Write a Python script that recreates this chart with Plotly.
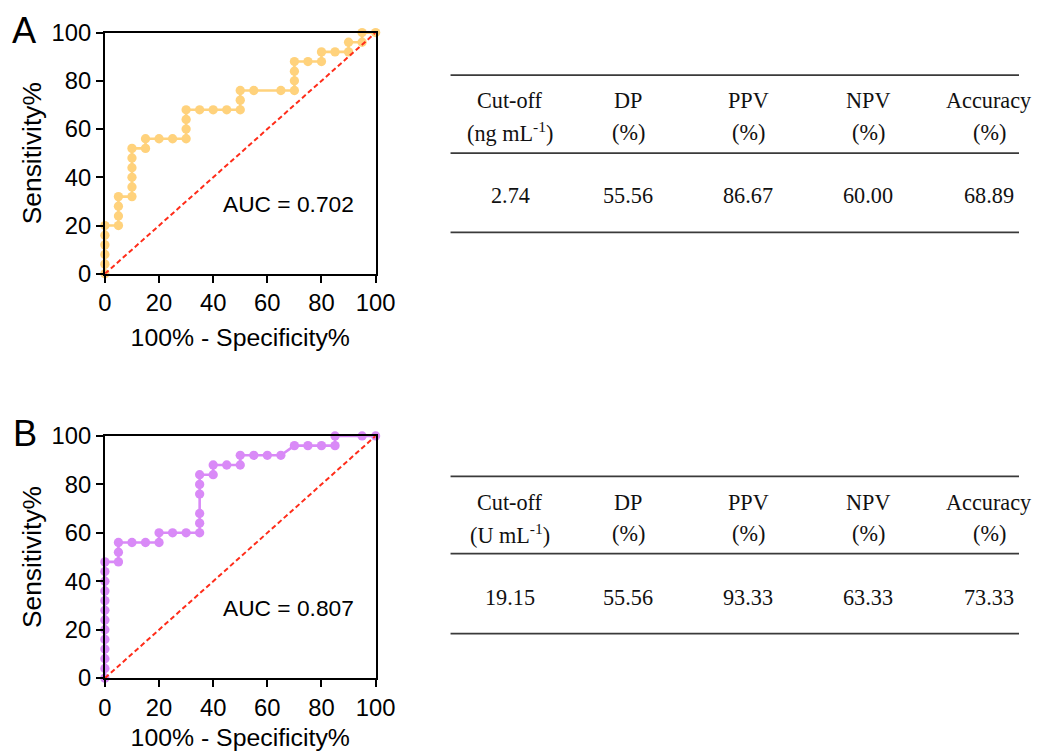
import plotly.graph_objects as go

# ---------------- data ----------------
a_fpr = [0, 0, 0, 0, 0, 0, 5, 5, 5, 5, 10, 10, 10, 10, 10, 10, 15, 15, 20, 25, 30,
         30, 30, 30, 35, 40, 45, 50, 50, 50, 55, 65, 70, 70, 70, 70, 75, 80, 80,
         85, 90, 90, 95, 95, 100]
a_sens = [0, 4, 8, 12, 16, 20, 20, 24, 28, 32, 32, 36, 40, 44, 48, 52, 52, 56, 56, 56, 56,
          60, 64, 68, 68, 68, 68, 68, 72, 76, 76, 76, 76, 80, 84, 88, 88, 88, 92,
          92, 92, 96, 96, 100, 100]

b_fpr = [0, 0, 0, 0, 0, 0, 0, 0, 0, 0, 0, 0, 0, 5, 5, 5, 10, 15, 20, 20, 25, 30, 35,
         35, 35, 35, 35, 35, 40, 40, 45, 50, 50, 55, 60, 65, 70, 75, 80, 85, 85, 95, 100]
b_sens = [0, 4, 8, 12, 16, 20, 24, 28, 32, 36, 40, 44, 48, 48, 52, 56, 56, 56, 56, 60, 60, 60, 60,
          64, 68, 76, 80, 84, 84, 88, 88, 88, 92, 92, 92, 92, 96, 96, 96, 96, 100, 100, 100]

auc_labels = ["AUC = 0.702", "AUC = 0.807"]
panel_labels = ["A", "B"]
ticks = [0, 20, 40, 60, 80, 100]

table_headers = [["Cut-off", "DP", "PPV", "NPV", "Accuracy"],
                 ["(ng mL<sup>-1</sup>)", "(%)", "(%)", "(%)", "(%)"],
                 ["(U mL<sup>-1</sup>)", "(%)", "(%)", "(%)", "(%)"]]
table_a_values = ["2.74", "55.56", "86.67", "60.00", "68.89"]
table_b_values = ["19.15", "55.56", "93.33", "63.33", "73.33"]

# ---------------- figure ----------------
W, H = 1039, 751
# the captured picture comes out slightly reduced; position things so the
# final picture lands on the intended pixel positions
SX, OX = 0.975, 6.0
SY, OY = 0.959, 12.2


def px(t):
    return ((t - OX) / SX) / W


def py(t):
    return 1 - ((t - OY) / SY) / H


def fs(s):
    return s / 0.967


fig = go.Figure()

yellow = "#FFD27C"
purple = "#D98AF7"
red = "#FF2D1A"

fig.add_trace(go.Scatter(x=a_fpr, y=a_sens, mode="lines+markers",
                         line=dict(color=yellow, width=2.6),
                         marker=dict(color=yellow, size=9.3),
                         cliponaxis=False, xaxis="x", yaxis="y", showlegend=False))
fig.add_trace(go.Scatter(x=[0, 100], y=[0, 100], mode="lines",
                         line=dict(color=red, width=2, dash="5px,3px"),
                         cliponaxis=False, xaxis="x", yaxis="y", showlegend=False))
fig.add_trace(go.Scatter(x=b_fpr, y=b_sens, mode="lines+markers",
                         line=dict(color=purple, width=2.6),
                         marker=dict(color=purple, size=9.3),
                         cliponaxis=False, xaxis="x2", yaxis="y2", showlegend=False))
fig.add_trace(go.Scatter(x=[0, 100], y=[0, 100], mode="lines",
                         line=dict(color=red, width=2, dash="5px,3px"),
                         cliponaxis=False, xaxis="x2", yaxis="y2", showlegend=False))

font_sans = "Liberation Sans, Arial, sans-serif"
font_serif = "Liberation Serif, Times New Roman, serif"


def axis_common(title, tsize, standoff):
    return dict(range=[0, 100], tickvals=ticks, showgrid=False, zeroline=False,
                showline=True, linecolor="black", linewidth=2, mirror=True,
                ticks="outside", ticklen=7, tickwidth=2, tickcolor="black",
                tickfont=dict(family=font_sans, size=fs(23), color="black"),
                title=dict(text=title, font=dict(family=font_sans, size=fs(tsize), color="black"),
                           standoff=standoff),
                fixedrange=True)


xdom = [px(104), px(375)]
fig.update_layout(
    width=W, height=H, margin=dict(l=0, r=0, t=0, b=0),
    paper_bgcolor="white", plot_bgcolor="white",
    xaxis=dict(domain=xdom, anchor="y", **axis_common("100% - Specificity%", 24, 13)),
    yaxis=dict(domain=[py(275), py(31)], anchor="x", **axis_common("Sensitivity%", 25.5, 2)),
    xaxis2=dict(domain=xdom, anchor="y2", **axis_common("100% - Specificity%", 24, 13)),
    yaxis2=dict(domain=[py(684), py(439)], anchor="x2", **axis_common("Sensitivity%", 25.5, 2)),
)

annotations = []
for i, (xr, yr) in enumerate([("x", "y"), ("x2", "y2")]):
    annotations.append(dict(x=68, y=29, xref=xr, yref=yr, text=auc_labels[i], showarrow=False,
                            xanchor="center", yanchor="middle",
                            font=dict(family=font_sans, size=fs(22), color="black")))
annotations.append(dict(x=px(24), y=py(29), xref="paper", yref="paper", text=panel_labels[0],
                        showarrow=False, xanchor="center", yanchor="middle",
                        font=dict(family=font_sans, size=fs(35), color="black")))
annotations.append(dict(x=px(24), y=py(437), xref="paper", yref="paper", text=panel_labels[1],
                        showarrow=False, xanchor="center", yanchor="middle",
                        font=dict(family=font_sans, size=fs(35), color="black")))

col_x = [510, 628, 748, 868, 989]
shapes = []


def add_table(top, h1, h2, mid, val, bot, unit_row, values):
    for yy in (top, mid, bot):
        shapes.append(dict(type="line", xref="paper", yref="paper",
                           x0=px(450), x1=1.0, y0=py(yy), y1=py(yy),
                           line=dict(color="#3a3a3a", width=1.7)))
    for j, cx in enumerate(col_x):
        for text, yy in ((table_headers[0][j], h1), (table_headers[unit_row][j], h2), (values[j], val)):
            annotations.append(dict(x=px(cx), y=py(yy), xref="paper", yref="paper", text=text,
                                    showarrow=False, xanchor="center", yanchor="middle",
                                    font=dict(family=font_serif, size=fs(21.5), color="#111")))


add_table(74, 100, 132, 153, 196, 233, 1, table_a_values)
add_table(480, 506, 538, 558, 602, 639, 2, table_b_values)

fig.update_layout(annotations=annotations, shapes=shapes)
fig.write_html("out.html")
